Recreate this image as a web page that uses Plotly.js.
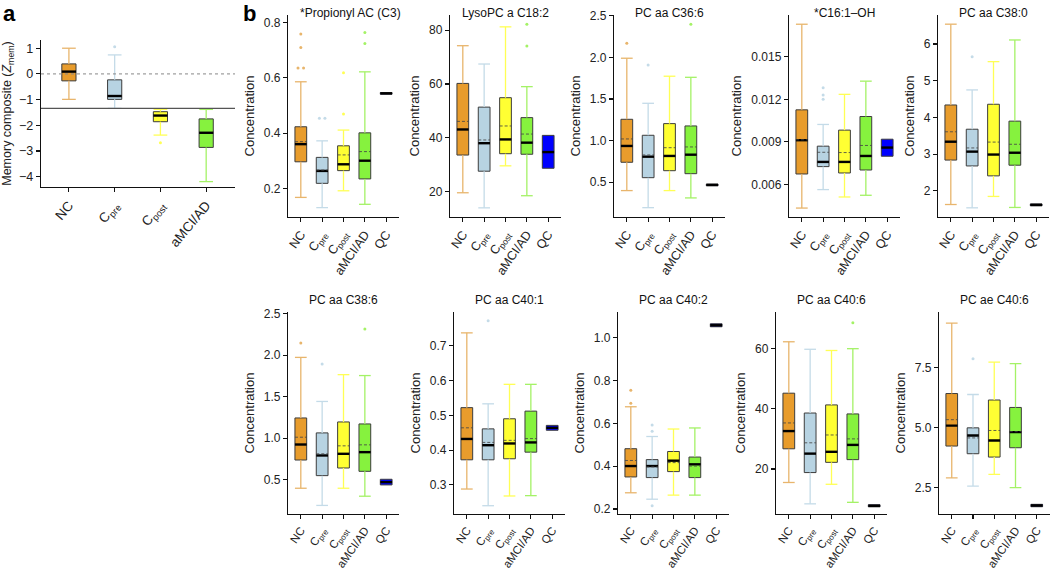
<!DOCTYPE html>
<html>
<head>
<meta charset="utf-8">
<script src="https://cdn.plot.ly/plotly-3.0.1.min.js"></script>
<style>
  html, body { margin: 0; padding: 0; background: #fff; }
  #chart { width: 1050px; height: 573px; }
</style>
</head>
<body>
<div id="chart"></div>
<script>
// groups (x categories) and their colours
const groupLabels = ['NC', 'C<sub>pre</sub>', 'C<sub>post</sub>', 'aMCI/AD', 'QC'];
const boxFills = ['#e89c2c', '#b7d3e2', '#ffff33', '#86f23e', '#0000ff'];
const whiskerColors = ['#e8b56c', '#c4dbe8', '#ffff55', '#a4f266', '#0000ff'];

// panel a: memory composite
const memLow = [-0.99, -1.34, -2.38, -4.19];
const memQ1 = [-0.27, -0.99, -1.86, -2.86];
const memMedian = [0.09, -0.86, -1.62, -2.29];
const memQ3 = [0.39, -0.23, -1.47, -1.75];
const memHigh = [1.0, 0.74, -1.38, -1.38];
const memOutlierGroup = [1, 2];
const memOutlierValue = [1.06, -2.68];
const memReference = 0;
const memCutoff = -1.34;

// panel b: metabolite concentrations (rows = metabolites, cols = NC, Cpre, Cpost, aMCI/AD, QC)
const metabolites = ['*Propionyl AC (C3)', 'LysoPC a C18:2', 'PC aa C36:6', '*C16:1\u2013OH', 'PC aa C38:0',
  'PC aa C38:6', 'PC aa C40:1', 'PC aa C40:2', 'PC aa C40:6', 'PC ae C40:6'];

const lowerWhisker = [
  [0.167, 0.130, 0.191, 0.142, 0.541],
  [19.6, 14.0, 29.6, 18.5, 28.7],
  [0.40, 0.195, 0.40, 0.312, 0.458],
  [0.00434, 0.00564, 0.00512, 0.00524, 0.00799],
  [1.63, 1.54, 1.85, 1.55, 1.595],
  [0.396, 0.189, 0.396, 0.30, 0.436],
  [0.288, 0.240, 0.268, 0.269, 0.457],
  [0.276, 0.246, 0.265, 0.265, 1.052],
  [15.5, 8.4, 14.9, 8.9, 7.4],
  [2.90, 2.56, 3.05, 2.50, 1.70]
];
const q1 = [
  [0.296, 0.218, 0.264, 0.234, 0.541],
  [33.6, 27.6, 34.1, 33.9, 28.7],
  [0.74, 0.555, 0.639, 0.603, 0.458],
  [0.00674, 0.00726, 0.00681, 0.00702, 0.00799],
  [2.84, 2.68, 2.41, 2.70, 1.595],
  [0.736, 0.548, 0.64, 0.60, 0.436],
  [0.372, 0.372, 0.375, 0.394, 0.457],
  [0.350, 0.347, 0.375, 0.347, 1.052],
  [26.7, 18.8, 22.2, 23.1, 7.4],
  [4.23, 3.91, 3.77, 4.16, 1.70]
];
const medians = [
  [0.360, 0.263, 0.287, 0.300, 0.544],
  [43.1, 38.0, 39.4, 38.2, 34.7],
  [0.936, 0.807, 0.816, 0.831, 0.468],
  [0.00912, 0.00759, 0.00759, 0.00801, 0.0086],
  [3.34, 3.07, 2.99, 3.04, 1.62],
  [0.923, 0.791, 0.811, 0.831, 0.47],
  [0.432, 0.414, 0.419, 0.422, 0.464],
  [0.401, 0.401, 0.426, 0.409, 1.059],
  [32.6, 25.1, 25.7, 28.0, 7.75],
  [5.08, 4.67, 4.46, 4.81, 1.75]
];
const q3 = [
  [0.423, 0.312, 0.354, 0.401, 0.547],
  [60.2, 51.4, 54.9, 47.5, 40.9],
  [1.256, 1.064, 1.204, 1.176, 0.478],
  [0.01126, 0.0087, 0.00983, 0.01079, 0.00919],
  [4.34, 3.68, 4.36, 3.90, 1.645],
  [1.243, 1.063, 1.195, 1.171, 0.504],
  [0.522, 0.461, 0.490, 0.512, 0.471],
  [0.482, 0.431, 0.469, 0.443, 1.066],
  [45.2, 38.6, 41.3, 38.3, 8.1],
  [6.42, 4.99, 6.15, 5.84, 1.80]
];
const upperWhisker = [
  [0.586, 0.372, 0.411, 0.622, 0.547],
  [74.2, 67.4, 81.2, 59.0, 40.9],
  [1.989, 1.448, 1.773, 1.76, 0.478],
  [0.01729, 0.01023, 0.01235, 0.01328, 0.00919],
  [6.54, 4.75, 5.52, 6.11, 1.645],
  [1.973, 1.442, 1.765, 1.754, 0.504],
  [0.737, 0.533, 0.589, 0.589, 0.471],
  [0.678, 0.539, 0.574, 0.579, 1.066],
  [62.3, 59.8, 59.4, 60.0, 8.1],
  [9.36, 6.38, 7.73, 7.67, 1.80]
];
const means = [
  [0.369, 0.266, 0.321, 0.333, null],
  [46.1, 39.2, 44.4, 41.4, null],
  [1.02, 0.828, 0.915, 0.924, null],
  [0.00915, 0.00827, 0.00825, 0.00875, null],
  [3.61, 3.17, 3.33, 3.27, null],
  [1.011, 0.811, 0.907, 0.919, null],
  [0.464, 0.422, 0.428, 0.433, null],
  [0.427, 0.397, 0.417, 0.401, null],
  [35.3, 28.7, 31.3, 30.0, null],
  [5.33, 4.57, 4.88, 4.83, null]
];
const outlierPanel = [0, 0, 0, 0, 0, 0, 0, 0, 0, 0, 1, 1, 2, 2, 2, 3, 3, 3, 4, 5, 5, 5, 6, 7, 7, 7, 7, 7, 8, 9];
const outlierGroup = [0, 0, 0, 0, 1, 1, 2, 2, 3, 3, 3, 3, 0, 1, 3, 1, 1, 1, 1, 0, 1, 3, 1, 0, 0, 1, 1, 1, 3, 1];
const outlierValue = [0.759, 0.71, 0.636, 0.636, 0.454, 0.454, 0.619, 0.469, 0.765, 0.725,
  82.2, 74.1, 2.17, 1.908, 2.397, 0.01281, 0.0123, 0.0120, 5.65, 2.145, 1.893, 2.316,
  0.772, 0.755, 0.694, 0.593, 0.564, 0.215, 68.6, 7.87];

// layout geometry (pixels in the 1050x573 figure)
const W = 1050, H = 573;
const panelLeft = [288, 450, 614, 789, 938, 288, 454, 618, 776, 939];
const panelRight = [399, 561, 725, 900, 1049, 399, 565, 729, 887, 1049.5];
const rowTop = [15, 312];
const rowBottom = [217, 514];
const yRanges = [[0.096, 0.828], [10.6, 85.6], [0.083, 2.508], [0.00371, 0.01794], [1.29, 6.79],
  [0.0856, 2.52], [0.2162, 0.797], [0.1768, 1.121], [5.02, 72.2], [1.397, 9.82]];
const yDticks = [0.2, 20, 0.5, 0.003, 1, 0.5, 0.1, 0.2, 20, 2.5];
const yFormats = ['.1f', 'd', '.1f', '.3f', 'd', '.1f', '.1f', '.1f', 'd', '.1f'];
const titleX = [350, 505.5, 669.5, 844.5, 993.5, 343.5, 509.5, 673.5, 831.5, 994];
const titleY = [12.5, 299.5];
const tickSize = [12.5, 11.5];

const FONT = 'Liberation Sans, Arial, Helvetica, sans-serif';
const OUTLINE = '#3c3c3c';

const traces = [];

function addBoxes(axisNum, low, lo, med, hi, high, mean, nGroups, boxW, capW) {
  const xa = 'x' + (axisNum === 1 ? '' : axisNum);
  const ya = 'y' + (axisNum === 1 ? '' : axisNum);
  const idx = [...Array(nGroups).keys()];

  // whiskers, one trace per group so they keep the group colour
  idx.forEach(i => {
    const xs = [], ys = [];
    if (low[i] < lo[i]) {
      xs.push(i, i, null, i - capW / 2, i + capW / 2, null);
      ys.push(low[i], lo[i], null, low[i], low[i], null);
    }
    if (high[i] > hi[i]) {
      xs.push(i, i, null, i - capW / 2, i + capW / 2, null);
      ys.push(hi[i], high[i], null, high[i], high[i], null);
    }
    if (!xs.length) return;
    traces.push({
      type: 'scatter', mode: 'lines', x: xs, y: ys, xaxis: xa, yaxis: ya,
      line: { color: whiskerColors[i], width: 1.3 }, hoverinfo: 'skip', showlegend: false
    });
  });

  // the boxes themselves
  traces.push({
    type: 'bar', x: idx, base: idx.map(i => lo[i]), y: idx.map(i => hi[i] - lo[i]),
    width: boxW, xaxis: xa, yaxis: ya,
    marker: { color: idx.map(i => boxFills[i]), line: { color: OUTLINE, width: 1 } },
    hoverinfo: 'skip', showlegend: false
  });

  // medians
  const mx = [], my = [];
  idx.forEach(i => {
    mx.push(i - boxW / 2, i + boxW / 2, null);
    my.push(med[i], med[i], null);
  });
  traces.push({
    type: 'scatter', mode: 'lines', x: mx, y: my, xaxis: xa, yaxis: ya,
    line: { color: '#000', width: 2.4 }, hoverinfo: 'skip', showlegend: false
  });

  // means (dashed)
  if (mean) {
    const ax = [], ay = [];
    idx.forEach(i => {
      if (mean[i] == null) return;
      ax.push(i - boxW / 2, i + boxW / 2, null);
      ay.push(mean[i], mean[i], null);
    });
    traces.push({
      type: 'scatter', mode: 'lines', x: ax, y: ay, xaxis: xa, yaxis: ya,
      line: { color: 'rgba(70,70,70,0.85)', width: 1, dash: '3px,2px' },
      hoverinfo: 'skip', showlegend: false
    });
  }
}

function addOutliers(axisNum, groups, values) {
  const xa = 'x' + (axisNum === 1 ? '' : axisNum);
  const ya = 'y' + (axisNum === 1 ? '' : axisNum);
  // spread identical values sideways so both dots stay visible
  const xs = groups.map((g, k) => {
    const dup = groups.some((g2, j) => j !== k && g2 === g && values[j] === values[k]);
    if (!dup) return g;
    const first = groups.findIndex((g2, j) => g2 === g && values[j] === values[k]) === k;
    return g + (first ? -0.13 : 0.13);
  });
  traces.push({
    type: 'scatter', mode: 'markers', x: xs, y: values, xaxis: xa, yaxis: ya,
    marker: { size: 3, color: groups.map(g => whiskerColors[g]) },
    hoverinfo: 'skip', showlegend: false
  });
}

// panel a
addBoxes(1, memLow, memQ1, memMedian, memQ3, memHigh, null, 4, 0.31, 0.3);
addOutliers(1, memOutlierGroup, memOutlierValue);

// panel b
metabolites.forEach((name, p) => {
  addBoxes(p + 2, lowerWhisker[p], q1[p], medians[p], q3[p], upperWhisker[p], means[p], 5, 0.55, 0.55);
  const g = [], v = [];
  outlierPanel.forEach((op, k) => { if (op === p) { g.push(outlierGroup[k]); v.push(outlierValue[k]); } });
  if (g.length) addOutliers(p + 2, g, v);
});

const axisBase = {
  showline: true, linecolor: '#111', linewidth: 1.2, ticks: 'outside', ticklen: 4,
  tickcolor: '#111', tickwidth: 1.1, showgrid: false, zeroline: false, fixedrange: true,
  tickfont: { family: FONT, size: 12, color: '#222' }
};

const layout = {
  width: W, height: H,
  margin: { l: 0, r: 0, t: 0, b: 0 },
  paper_bgcolor: '#ffffff', plot_bgcolor: 'rgba(0,0,0,0)',
  showlegend: false, bargap: 0,
  font: { family: FONT, size: 12, color: '#222' },
  xaxis: Object.assign({}, axisBase, {
    domain: [41 / W, 235 / W], anchor: 'y', range: [-0.61, 3.63],
    tickmode: 'array', tickvals: [0, 1, 2, 3], ticktext: groupLabels.slice(0, 4),
    tickangle: -50, tickfont: { family: FONT, size: 13.5, color: '#222' }
  }),
  yaxis: Object.assign({}, axisBase, {
    domain: [1 - 187 / H, 1 - 40 / H], anchor: 'x', range: [-4.4, 1.32], dtick: 1,
    tickfont: { family: FONT, size: 12.5, color: '#222' },
    title: { text: 'Memory composite (<i>Z</i><sub>mem</sub>)', font: { family: FONT, size: 12.5, color: '#222' }, standoff: 8 }
  }),
  shapes: [
    { type: 'line', xref: 'x domain', yref: 'y', x0: 0, x1: 1, y0: memReference, y1: memReference,
      line: { color: '#888', width: 1, dash: 'dot' } },
    { type: 'line', xref: 'x domain', yref: 'y', x0: 0, x1: 1, y0: memCutoff, y1: memCutoff,
      line: { color: '#555', width: 1.2 } }
  ],
  annotations: [
    { text: '<b>a</b>', xref: 'paper', yref: 'paper', x: 1 / W, y: 1 - 14 / H, xanchor: 'left', yanchor: 'middle',
      showarrow: false, font: { family: FONT, size: 22, color: '#000' } },
    { text: '<b>b</b>', xref: 'paper', yref: 'paper', x: 241 / W, y: 1 - 13 / H, xanchor: 'left', yanchor: 'middle',
      showarrow: false, font: { family: FONT, size: 22, color: '#000' } }
  ]
};

metabolites.forEach((name, p) => {
  const n = p + 2;
  const row = p < 5 ? 0 : 1;
  layout['xaxis' + n] = Object.assign({}, axisBase, {
    domain: [panelLeft[p] / W, panelRight[p] / W], anchor: 'y' + n, range: [-0.6, 4.6],
    tickmode: 'array', tickvals: [0, 1, 2, 3, 4], ticktext: groupLabels, tickangle: -55,
    tickfont: { family: FONT, size: tickSize[row], color: '#222' }
  });
  layout['yaxis' + n] = Object.assign({}, axisBase, {
    domain: [1 - rowBottom[row] / H, 1 - rowTop[row] / H], anchor: 'x' + n,
    range: yRanges[p], dtick: yDticks[p], tick0: 0, tickformat: yFormats[p],
    title: { text: 'Concentration', font: { family: FONT, size: 13, color: '#222' }, standoff: 6 }
  });
  layout.annotations.push({
    text: name, xref: 'paper', yref: 'paper', x: titleX[p] / W, y: 1 - titleY[row] / H,
    xanchor: 'center', yanchor: 'middle', showarrow: false,
    font: { family: FONT, size: 12, color: '#111' }
  });
});

Plotly.newPlot('chart', traces, layout, { staticPlot: true, displayModeBar: false });
</script>
</body>
</html>
